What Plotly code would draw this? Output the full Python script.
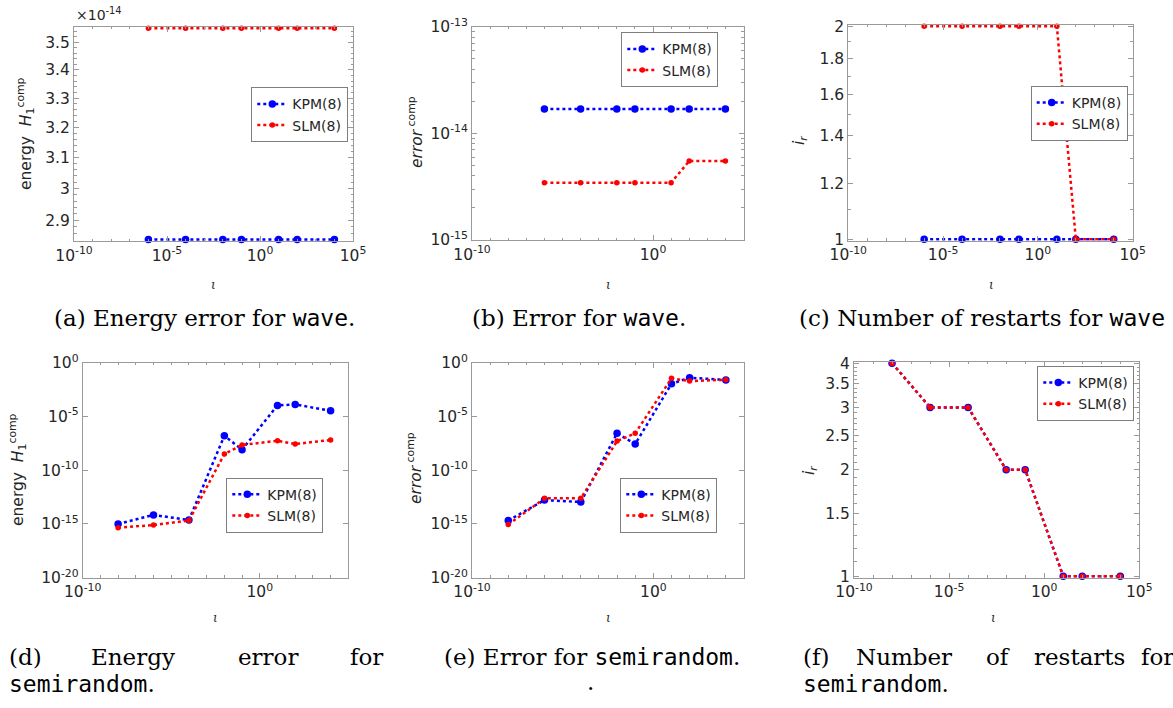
import numpy as np
import plotly.graph_objects as go

W, H = 1173, 708

# ---------------- data ----------------
iota_wave = [1e-6, 1e-4, 1e-2, 1e-1, 1e1, 1e2, 1e4]
energy_wave_kpm = [2.8422e-14, 2.8422e-14, 2.8422e-14, 2.8422e-14, 2.8422e-14, 2.8422e-14, 2.8422e-14]
energy_wave_slm = [3.5527e-14, 3.5527e-14, 3.5527e-14, 3.5527e-14, 3.5527e-14, 3.5527e-14, 3.5527e-14]
error_wave_kpm = [1.69e-14, 1.69e-14, 1.69e-14, 1.69e-14, 1.69e-14, 1.69e-14, 1.69e-14]
error_wave_slm = [3.45e-15, 3.45e-15, 3.45e-15, 3.45e-15, 3.45e-15, 5.5e-15, 5.5e-15]
restarts_wave_kpm = [1, 1, 1, 1, 1, 1, 1]
restarts_wave_slm = [2, 2, 2, 2, 2, 1, 1]

iota_semi = [1e-8, 1e-6, 1e-4, 1e-2, 1e-1, 1e1, 1e2, 1e4]
energy_semi_kpm = [1.0e-15, 6.9e-15, 2.3e-15, 1.6e-7, 8.1e-9, 1.07e-4, 1.3e-4, 3.4e-5]
energy_semi_slm = [4.5e-16, 7.9e-16, 2.1e-15, 3.2e-9, 2.2e-8, 5.5e-8, 2.7e-8, 6.5e-8]
error_semi_kpm = [2.1e-15, 1.66e-13, 1.1e-13, 2.7e-7, 2.7e-8, 1.1e-2, 4.0e-2, 2.5e-2]
error_semi_slm = [9.1e-16, 2.4e-13, 2.4e-13, 5.1e-8, 2.7e-7, 3.5e-2, 1.95e-2, 2.6e-2]
restarts_semi_kpm = [4, 3, 3, 2, 2, 1, 1, 1]
restarts_semi_slm = [4, 3, 3, 2, 2, 1, 1, 1]

series_names = ["KPM(8)", "SLM(8)"]

# ---------------- styling helpers ----------------
TXT = "#262626"
AX = "#9a9a9a"
SANS = "DejaVu Sans"
SERIF = "DejaVu Serif"
MONO = "DejaVu Sans Mono"


def fx(p):
    return p / W


def fy(p):
    return 1 - p / H


def sup(s):
    return "10<sup>%s</sup>" % s


# panel geometry: (left, right, top, bottom) in pixels
boxes = [
    (74, 353, 26.7, 241),
    (472, 743.5, 26.7, 240),
    (848.3, 1132.7, 24.7, 240.7),
    (82.7, 348.3, 362.7, 577.7),
    (472, 744, 362.7, 577.7),
    (854, 1139.3, 361.7, 577.7),
]

x_major_5 = ([1e-10, 1e-5, 1e0, 1e5], [sup("-10"), sup("-5"), sup("0"), sup("5")])
x_major_10 = ([1e-10, 1e0], [sup("-10"), sup("0")])
x_minor = [10.0 ** k for k in range(-9, 5) if k % 5 != 0]
x_minor_10 = [10.0 ** k for k in range(-9, 5) if k != 0]

pa, pc, pf = 0.0007, 0.0021, 0.0042  # tiny padding so edge lines are not clipped
y_specs = [
    dict(range=[np.log10(2.8422e-14) - pa, np.log10(3.5527e-14) + pa],
         tickvals=[2.9e-14, 3.0e-14, 3.1e-14, 3.2e-14, 3.3e-14, 3.4e-14, 3.5e-14],
         ticktext=["2.9", "3", "3.1", "3.2", "3.3", "3.4", "3.5"],
         minor=[v * 1e-16 for v in range(286, 356, 2) if v % 10 != 0]),
    dict(range=[-15, -13], tickvals=[1e-15, 1e-14, 1e-13],
         ticktext=[sup("-15"), sup("-14"), sup("-13")],
         minor=[m * 10.0 ** e for e in (-15, -14) for m in range(2, 10)]),
    dict(range=[-pc, np.log10(2) + pc], tickvals=[1, 1.2, 1.4, 1.6, 1.8, 2],
         ticktext=["1", "1.2", "1.4", "1.6", "1.8", "2"],
         minor=[1.1, 1.3, 1.5, 1.7, 1.9]),
    dict(range=[-20, 0], tickvals=[1e-20, 1e-15, 1e-10, 1e-5, 1e0],
         ticktext=[sup("-20"), sup("-15"), sup("-10"), sup("-5"), sup("0")],
         minor=[]),
    dict(range=[-20, 0], tickvals=[1e-20, 1e-15, 1e-10, 1e-5, 1e0],
         ticktext=[sup("-20"), sup("-15"), sup("-10"), sup("-5"), sup("0")],
         minor=[]),
    dict(range=[-pf, np.log10(4) + pf], tickvals=[1, 1.5, 2, 2.5, 3, 3.5, 4],
         ticktext=["1", "1.5", "2", "2.5", "3", "3.5", "4"],
         minor=[round(1 + 0.1 * k, 1) for k in range(1, 30) if k % 5 != 0]),
]

x_specs = [x_major_5, x_major_10, x_major_5, x_major_10, x_major_10, x_major_5]
x_minors = [x_minor, x_minor_10, x_minor, x_minor_10, x_minor_10, x_minor]

data_sets = [
    (iota_wave, energy_wave_kpm, energy_wave_slm),
    (iota_wave, error_wave_kpm, error_wave_slm),
    (iota_wave, restarts_wave_kpm, restarts_wave_slm),
    (iota_semi, energy_semi_kpm, energy_semi_slm),
    (iota_semi, error_semi_kpm, error_semi_slm),
    (iota_semi, restarts_semi_kpm, restarts_semi_slm),
]

# legend right/top edges in pixels
legend_pos = [
    (348.3, 87.3), (718.3, 32.3), (1127.7, 86),
    (323.3, 477.7), (717.3, 477.7), (1134.3, 366),
]

fig = go.Figure()
layout = dict(
    width=W, height=H,
    margin=dict(l=0, r=0, t=0, b=0),
    paper_bgcolor="white", plot_bgcolor="white",
    showlegend=True,
)

for i, (box, ys, xs, xm, ds, lp) in enumerate(zip(boxes, y_specs, x_specs, x_minors, data_sets, legend_pos)):
    n = i + 1
    xa = "x" if n == 1 else "x%d" % n
    ya = "y" if n == 1 else "y%d" % n
    lg = "legend" if n == 1 else "legend%d" % n
    l, r, t, b = box
    common = dict(
        showline=True, linecolor=AX, linewidth=1, mirror="ticks",
        ticks="inside", ticklen=5, tickcolor=AX, tickwidth=1,
        showgrid=False, zeroline=False, automargin=False,
        tickfont=dict(family=SANS, size=15.5, color=TXT),
    )
    layout["xaxis" if n == 1 else "xaxis%d" % n] = dict(
        type="log", range=[-10, 5], domain=[fx(l), fx(r)],
        anchor=ya, tickmode="array", tickvals=xs[0], ticktext=xs[1],
        minor=dict(tickmode="array", tickvals=xm, ticks="inside", ticklen=2.5, tickcolor=AX),
        **common,
    )
    yax = dict(
        type="log", range=ys["range"], domain=[fy(b), fy(t)],
        anchor=xa, tickmode="array", tickvals=ys["tickvals"], ticktext=ys["ticktext"],
        **common,
    )
    if ys["minor"]:
        yax["minor"] = dict(tickmode="array", tickvals=ys["minor"], ticks="inside", ticklen=2.5, tickcolor=AX)
    layout["yaxis" if n == 1 else "yaxis%d" % n] = yax

    layout[lg] = dict(
        x=fx(lp[0]), y=fy(lp[1]), xanchor="right", yanchor="top",
        bgcolor="white", bordercolor="#7f7f7f", borderwidth=1,
        font=dict(family=SANS, size=14, color=TXT),
        itemwidth=30, tracegroupgap=0,
    )

    x, kpm, slm = ds
    fig.add_trace(go.Scatter(
        x=x, y=kpm, name=series_names[0], mode="lines+markers",
        line=dict(color="#0000ff", width=2.5, dash="dot"),
        marker=dict(color="#0000ff", size=7.5, symbol="circle"),
        xaxis=xa, yaxis=ya, legend=lg, cliponaxis=False,
    ))
    fig.add_trace(go.Scatter(
        x=x, y=slm, name=series_names[1], mode="lines+markers",
        line=dict(color="#ff0000", width=2.5, dash="dot"),
        marker=dict(color="#ff0000", size=5.5, symbol="circle"),
        xaxis=xa, yaxis=ya, legend=lg, cliponaxis=False,
    ))

ann = []


def add(text, x, y, size=15.5, family=SANS, angle=0, xanchor="center", yanchor="middle", color=TXT):
    ann.append(dict(text=text, x=fx(x), y=fy(y), xref="paper", yref="paper",
                    showarrow=False, textangle=angle, xanchor=xanchor, yanchor=yanchor,
                    font=dict(family=family, size=size, color=color)))


# y-axis titles
add("energy  <i>H</i><sub>1</sub><sup>comp</sup>", 26, 134, angle=-90)
add("<i>error</i><sup> comp</sup>", 416, 132, angle=-90)
add("<i>i<sub>r</sub></i>", 800, 140, angle=-90)
add("energy  <i>H</i><sub>1</sub><sup>comp</sup>", 17, 470, angle=-90)
add("<i>error</i><sup> comp</sup>", 414, 468, angle=-90)
add("<i>i<sub>r</sub></i>", 810, 470, angle=-90)

# x-axis titles (iota)
for cx, cy in [(213, 285), (608, 285), (991, 285), (215, 618), (608, 618), (993, 618)]:
    add("<i>ι</i>", cx, cy, size=12, family=SERIF)

# exponent label
add("×10<sup>-14</sup>", 74, 14, size=14, xanchor="left")

# captions
CAP = 23
mono = lambda s: "<span style='font-family:%s'>%s</span>" % (MONO, s)
add("(a) Energy error for " + mono("wave") + ".", 52, 318, size=CAP, family=SERIF, xanchor="left", color="black")
add("(b) Error for " + mono("wave") + ".", 470, 318, size=CAP, family=SERIF, xanchor="left", color="black")
add("(c) Number of restarts for " + mono("wave"), 797, 318, size=CAP, family=SERIF, xanchor="left", color="black")

for word, xpos in [("(d)", 7), ("Energy", 89), ("error", 236), ("for", 348)]:
    add(word, xpos, 657, size=CAP, family=SERIF, xanchor="left", color="black")
add(mono("semirandom") + ".", 7, 684, size=CAP, family=SERIF, xanchor="left", color="black")
add("(e) Error for " + mono("semirandom") + ".", 442, 657, size=CAP, family=SERIF, xanchor="left", color="black")
add(".", 590, 682, size=CAP, family=SERIF, color="black")
for word, xpos in [("(f)", 801), ("Number", 854), ("of", 984), ("restarts", 1032), ("for", 1139)]:
    add(word, xpos, 657, size=CAP, family=SERIF, xanchor="left", color="black")
add(mono("semirandom") + ".", 801, 684, size=CAP, family=SERIF, xanchor="left", color="black")

layout["annotations"] = ann
fig.update_layout(**layout)
fig.write_html("out.html")
